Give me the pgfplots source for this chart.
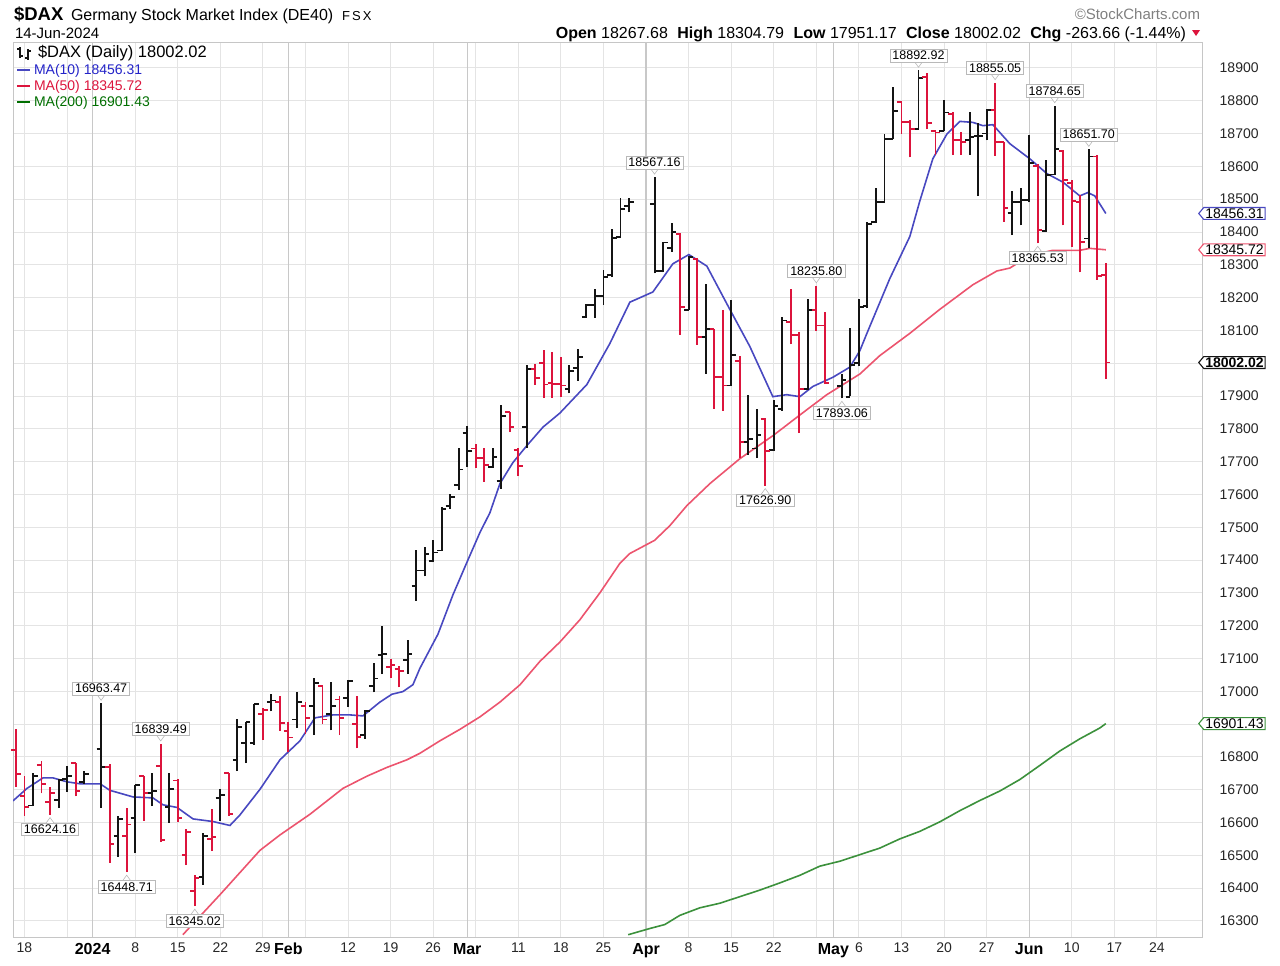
\documentclass[border=0pt]{standalone}
\usepackage{pgfplots}
\pgfplotsset{compat=1.18}
\usepackage{pgfplotstable}
\usepackage{fontspec}
\setmainfont{Liberation Sans}
\usetikzlibrary{shapes.symbols}

% drawn at one fifth of the pixel size: 1 px = 0.2pt
\newcommand\fs[1]{\fontsize{#1}{#1}\selectfont}

\definecolor{barred}{RGB}{220,20,60}
\definecolor{barblk}{RGB}{20,20,20}
\definecolor{maten}{RGB}{72,72,192}
\definecolor{mafifty}{RGB}{236,84,110}
\definecolor{matwo}{RGB}{60,145,60}
\definecolor{tten}{RGB}{35,35,200}
\definecolor{tfifty}{RGB}{220,20,60}
\definecolor{ttwo}{RGB}{0,110,0}
\definecolor{gridc}{RGB}{228,228,228}
\definecolor{monthc}{RGB}{200,200,200}

% up days (black): slot, open, high, low, close
\pgfplotstableread{
s O H L C
1 16652 16751 16650 16743
4 16669 16733 16645 16730
5 16733 16771 16694 16743
7 16723 16757 16718 16749
9 16823 16963.47 16645 16768
11 16558 16620 16496 16610
13 16615 16715 16506 16714
15 16689 16750 16650 16697
17 16648 16750 16600 16701
21 16434 16567 16411 16558
23 16674 16701 16604 16683
25 16790 16914 16757 16890
26 16842 16907 16781 16907
27 16842 16961 16837 16961
29 16967 16991 16939 16972
32 16914 16999 16888 16968
34 16956 17041 16866 17024
36 16930 17027 16881 16956
38 16979 17035 16953 17032
40 16866 16944 16855 16941
41 17016 17086 16997 17039
42 17110 17199 17052 17115
45 17096 17155 17054 17115
46 17322 17430 17276 17368
47 17368 17440 17350 17418
48 17396 17460 17393 17423
49 17429 17561 17427 17556
50 17566 17600 17556 17592
51 17630 17740 17615 17676
52 17786 17810 17683 17731
55 17683 17741 17681 17713
56 17642 17874 17618 17840
59 17805 17996 17741 17981
64 17920 17995 17908 17975
65 17984 18042 17946 18019
66 18141 18180 18139 18177
67 18177 18225 18139 18206
68 18206 18284 18177 18262
69 18270 18408 18262 18381
70 18384 18505 18381 18471
71 18480 18503 18460 18490
74 18484 18567.16 18274 18280
75 18280 18370 18277 18368
76 18350 18428 18339 18400
78 18161 18328 18161 18325
80 18079 18240 17968 18103
83 17932 18193 17929 18024
85 17760 17904 17721 17770
86 17740 17861 17711 17780
88 17735 17888 17732 17870
89 17860 18141 17855 18130
92 17922 18196 17917 18161
96 17930 17968 17893.06 17950
97 17898 18106 17900 17995
98 18000 18196 17990 18171
99 18175 18431 18168 18425
100 18430 18535 18428 18490
101 18490 18700 18488 18684
102 18684 18842 18684 18768
105 18713 18892.92 18713 18868
108 18709 18802 18709 18764
111 18679 18765 18635 18690
112 18693 18733 18509 18693
113 18700 18776 18679 18771
116 18457 18526 18390 18490
117 18490 18535 18420 18498
118 18497 18695 18490 18610
120 18403 18620 18400 18574
121 18575 18784.65 18574 18652
125 18380 18651.70 18350 18630
}\upbars

% down days (red)
\pgfplotstableread{
s O H L C
-1 16820 16885 16709 16749
0 16680 16743 16620 16647
2 16775 16787 16689 16718
3 16662 16707 16624.16 16690
6 16781 16781 16680 16695
10 16768 16778 16478 16535
12 16560 16643 16448.71 16594
14 16743 16743 16606 16689
16 16771 16839.49 16540 16547
18 16728 16733 16603 16615
19 16500 16580 16470 16572
20 16390 16440 16345.02 16430
22 16551 16641 16513 16555
24 16750 16750 16620 16627
28 16930 16950 16852 16942
30 16968 16985 16880 16904
31 16880 16907 16814 16859
33 16956 16968 16871 16918
35 17016 17018 16900 16914
37 16975 16985 16866 16918
39 16900 16985 16826 16861
43 17075 17097 17041 17080
44 17068 17078 17012 17063
53 17740 17754 17681 17711
54 17711 17741 17639 17690
57 17850 17852 17790 17805
58 17735 17741 17656 17686
60 17981 17997 17935 17956
61 18000 18040 17895 17935
62 17940 18034 17895 17936
63 17936 18019 17897 17932
77 18395 18398 18086 18171
79 18318 18320 18056 18079
81 18103 18103 17861 17958
82 17958 18161 17855 17932
84 18006 18022 17711 17760
87 17829 17832 17626.90 17732
90 18126 18226 18058 18086
91 18086 18094 17787 17922
93 18161 18235.80 18099 18115
94 18115 18155 17936 17940
103 18795 18799 18700 18735
104 18735 18741 18627 18713
106 18871 18886 18713 18733
107 18709 18709 18635 18703
109 18760 18765 18635 18679
110 18679 18706 18635 18675
114 18771 18855.05 18632 18674
115 18674 18674 18431 18473
119 18600 18606 18365.53 18405
122 18648 18650 18420 18557
123 18550 18558 18355 18494
124 18490 18512 18277 18369
126 18630 18635 18255 18265.68
127 18267.68 18304.79 17951.17 18002.02
}\dnbars

\pgfplotstableread{
s v
-1.35 16666
0.29 16704
2.17 16736
3.35 16736
4.99 16724
6.52 16718
8.87 16718
10.04 16698
12.74 16678
15.09 16675
16.26 16654
17.91 16646
19.79 16611
22.13 16603
24.13 16591
25.30 16623
27.65 16701
30.0 16791
32.35 16849
34.11 16919
36.22 16928
38.22 16928
39.75 16925
41.74 16967
43.15 16991
44.44 16999
45.62 17020
46.44 17070
48.56 17174
50.32 17294
51.96 17393
53.49 17484
54.66 17544
55.84 17633
57.36 17697
59.01 17749
60.89 17805
62.88 17848
66.05 17935
68.75 18060
71.10 18186
73.80 18217
76.15 18303
78.03 18331
80.14 18296
82.84 18164
85.19 18051
87.89 17898
89.53 17904
91.06 17898
92.59 17929
94.94 17957
96.94 17988
98.11 18038
98.94 18091
101.63 18258
103.98 18386
105.15 18494
106.68 18623
108.33 18698
109.85 18737
111.38 18734
112.56 18724
113.73 18727
115.73 18669
118.07 18623
120.07 18578
121.95 18552
123.94 18510
124.88 18520
125.70 18510
127 18456.31
}\maten

\pgfplotstableread{
s v
18.6 16258
22.96 16380
27.65 16515
30.0 16562
33.52 16625
37.4 16704
40.2 16741
42.57 16768
44.9 16791
46.44 16811
48.79 16849
51.14 16884
53.49 16922
55.84 16967
58.2 17020
60.53 17091
62.88 17150
65.23 17218
67.58 17300
69.93 17390
71.1 17420
74.0 17460
75.8 17505
77.8 17566
80.5 17633
84.02 17709
87.9 17779
91.06 17842
94.23 17904
98.11 17967
100.45 18023
103.98 18091
107.5 18164
111.38 18239
114.2 18281
115.73 18290
118.07 18328
120.77 18344
123.94 18344
125.12 18350
127 18345.72
}\mafifty

\pgfplotstableread{
s v
70.9 16258
73.45 16277
75.2 16289
76.97 16317
79.32 16340
81.67 16354
84.02 16374
86.37 16394
88.72 16416
91.06 16439
93.41 16467
95.76 16482
98.11 16502
100.45 16522
102.8 16550
105.15 16573
107.5 16602
109.85 16636
112.2 16667
114.55 16696
116.9 16731
119.25 16774
121.6 16818
123.94 16855
126.29 16888
127 16901.43
}\matwo

\pgfdeclareplotmark{otick}{\pgfpathmoveto{\pgfqpoint{-0.92pt}{0pt}}\pgfpathlineto{\pgfqpoint{0pt}{0pt}}\pgfusepathqstroke}
\pgfdeclareplotmark{ctick}{\pgfpathmoveto{\pgfqpoint{0pt}{0pt}}\pgfpathlineto{\pgfqpoint{0.92pt}{0pt}}\pgfusepathqstroke}

\pgfplotsset{
  hl/.style={draw=none, mark=none, forget plot,
    error bars/.cd, y dir=plus, y explicit, error mark=none,
    error bar style={draw=#1, line width=0.38pt}},
  ot/.style={only marks, mark=otick, forget plot, mark options={draw=#1, line width=0.38pt}},
  ct/.style={only marks, mark=ctick, forget plot, mark options={draw=#1, line width=0.38pt}},
}
\tikzset{
  pl/.style={rectangle, draw=gray!55, fill=white, line width=0.12pt,
    font=\fs{2.5}, inner xsep=0.5pt, inner ysep=0.4pt},
  pt/.style={draw=gray!55, fill=white, line width=0.12pt},
  vb/.style={signal, signal to=west, signal pointer angle=100, draw=#1, fill=white,
    line width=0.22pt, font=\fs{2.8}, inner xsep=0.3pt, inner ysep=0.2pt,
    anchor=west},
}
% boxed value above a high / below a low, with a small pointer
\newcommand\hilab[2]{%
  \filldraw[pt] ([xshift=-0.8pt,yshift=1.7pt]axis cs:#1,#2) -- ([yshift=0.6pt]axis cs:#1,#2) -- ([xshift=0.8pt,yshift=1.7pt]axis cs:#1,#2);
  \node[pl, anchor=south] at ([yshift=1.6pt]axis cs:#1,#2) {#2};}
\newcommand\lolab[2]{%
  \filldraw[pt] ([xshift=-0.8pt,yshift=-1.7pt]axis cs:#1,#2) -- ([yshift=-0.6pt]axis cs:#1,#2) -- ([xshift=0.8pt,yshift=-1.7pt]axis cs:#1,#2);
  \node[pl, anchor=north] at ([yshift=-1.6pt]axis cs:#1,#2) {#2};}

\begin{document}
\begin{tikzpicture}[x=0.2pt, y=0.2pt]
\useasboundingbox (0,0) rectangle (1280,965);
\begin{axis}[
  at={(2.6pt,5.6pt)}, anchor=south west,
  scale only axis, width=237.8pt, height=179pt,
  xmin=-1.35, xmax=138.3,
  ymin=16251, ymax=18979,
  clip mode=individual,
  axis line style={draw=gray!45, line width=0.16pt},
  major tick length=0pt, minor tick length=0pt,
  xmajorgrids, ymajorgrids,
  major grid style={draw=gridc, line width=0.18pt},
  scaled y ticks=false,
  ytick={16300,16400,...,18900},
  yticklabel={\pgfmathprintnumber[fixed,precision=0,1000 sep={}]{\tick}},
  /pgf/number format/assume math mode=true,
  yticklabel pos=right,
  yticklabel style={font=\fs{2.8}, text=black!85},
  xtick={0,5,13,18,23,28,33,38,43,48,53,58,63,68,78,83,88,93,98,103,108,113,123,128,133},
  xticklabels={18,{},8,15,22,29,{},12,19,26,{},11,18,25,8,15,22,{},6,13,20,27,10,17,24},
  xticklabel style={font=\fs{2.8}, text=black!85, yshift=2.3pt},
  extra x ticks={8,31,52,73,95,118},
  extra x tick labels={2024,Feb,Mar,Apr,May,Jun},
  extra x tick style={grid=major, major grid style={draw=monthc, line width=0.22pt},
    xticklabel style={font=\bfseries\fs{3.2}, text=black}},
  typeset ticklabels with strut,
]
% moving averages
\addplot[matwo, line width=0.32pt] table[x=s, y=v] {\matwo};
\addplot[mafifty, line width=0.32pt] table[x=s, y=v] {\mafifty};
\addplot[maten, line width=0.32pt] table[x=s, y=v] {\maten};

% OHLC bars: high-low as error bars from the low, open tick left, close tick right
\addplot[hl=barblk] table[x=s, y=L, y error expr=\thisrow{H}-\thisrow{L}] {\upbars};
\addplot[ot=barblk] table[x=s, y=O] {\upbars};
\addplot[ct=barblk] table[x=s, y=C] {\upbars};
\addplot[hl=barred] table[x=s, y=L, y error expr=\thisrow{H}-\thisrow{L}] {\dnbars};
\addplot[ot=barred] table[x=s, y=O] {\dnbars};
\addplot[ct=barred] table[x=s, y=C] {\dnbars};

% high / low annotations
\hilab{9}{16963.47}
\hilab{16}{16839.49}
\lolab{3}{16624.16}
\lolab{12}{16448.71}
\lolab{20}{16345.02}
\hilab{74}{18567.16}
\lolab{87}{17626.90}
\hilab{93}{18235.80}
\lolab{96}{17893.06}
\hilab{105}{18892.92}
\hilab{114}{18855.05}
\hilab{121}{18784.65}
\hilab{125}{18651.70}
\lolab{119}{18365.53}

% last values on the price scale
\node[vb=maten] at ([xshift=-0.8pt]axis cs:138.3,18456.31) {18456.31};
\node[vb=mafifty] at ([xshift=-0.8pt]axis cs:138.3,18345.72) {18345.72};
\node[vb=barblk, font=\bfseries\fs{2.8}] at ([xshift=-0.8pt]axis cs:138.3,18002.02) {18002.02};
\node[vb=matwo] at ([xshift=-0.8pt]axis cs:138.3,16901.43) {16901.43};
\end{axis}

% header
\node[anchor=base west, inner sep=0, font=\bfseries\fs{3.7}] at (13,945) {\$DAX};
\node[anchor=base west, inner sep=0, font=\fs{3.2}] at (70,945) {Germany Stock Market Index (DE40)};
\node[anchor=base west, inner sep=0, font=\fs{2.6}] at (341,945) {F\,S\,X};
\node[anchor=base west, inner sep=0, font=\fs{3.0}] at (14,927) {14-Jun-2024};
\node[anchor=base east, inner sep=0, font=\fs{3.0}, text=gray] at (1201,946) {©StockCharts.com};
\node[anchor=base east, inner sep=0, font=\fs{3.2}] at (1187,927)
  {\textbf{Open} 18267.68\hspace{1pt} \textbf{High} 18304.79\hspace{1pt} \textbf{Low} 17951.17\hspace{1pt} \textbf{Close} 18002.02\hspace{1pt} \textbf{Chg} -263.66 (-1.44\%)};
\fill[barred] (1192,935) -- (1200,935) -- (1196,929) -- cycle;

% legend
\draw[barblk, line width=0.24pt] (20,918) -- (20,907) (17,916) -- (20,916) (20,909) -- (23,909);
\draw[barblk, line width=0.24pt] (28,916) -- (28,905) (25,907) -- (28,907) (28,914) -- (31,914);
\node[anchor=base west, inner sep=0, font=\fs{3.3}] at (37,908) {\$DAX (Daily) 18002.02};
\draw[maten, line width=0.5pt] (17,895) -- (30,895);
\node[anchor=base west, inner sep=0, text=tten, font=\fs{2.8}] at (33,891) {MA(10) 18456.31};
\draw[barred, line width=0.5pt] (17,879) -- (30,879);
\node[anchor=base west, inner sep=0, text=tfifty, font=\fs{2.8}] at (33,875) {MA(50) 18345.72};
\draw[ttwo, line width=0.5pt] (17,863) -- (30,863);
\node[anchor=base west, inner sep=0, text=ttwo, font=\fs{2.8}] at (33,859) {MA(200) 16901.43};
\end{tikzpicture}
\end{document}
